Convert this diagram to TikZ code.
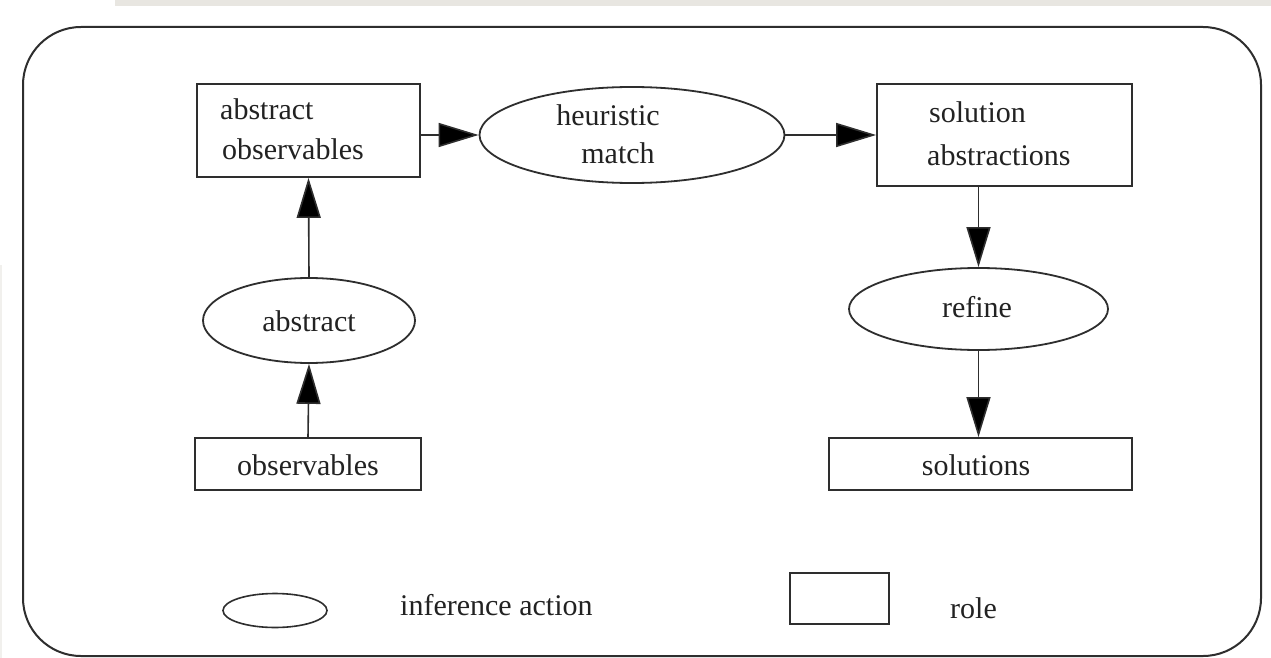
\documentclass[tikz,border=0pt]{standalone}
\usepackage{fontspec}
\setmainfont{Liberation Serif}
\usetikzlibrary{shapes.geometric,arrows.meta}
\definecolor{ink}{HTML}{2E2E2E}
\definecolor{txt}{HTML}{222222}
\definecolor{paper}{HTML}{E8E6E1}
\begin{document}
\begin{tikzpicture}[x=1pt,y=-1pt,
  every node/.style={font=\fontsize{30}{40}\selectfont, text=txt},
  role/.style={draw=ink, line width=1.8pt, rectangle, inner sep=0pt},
  action/.style={draw=ink, line width=1.8pt, ellipse, inner sep=0pt},
  label/.style={inner sep=0pt, anchor=base},
  flow/.style={draw=ink, line width=1.6pt,
    -{Triangle[length=40pt,width=24pt,fill=black]}}]
\useasboundingbox (0,0) rectangle (1271,658);
\fill[white] (0,0) rectangle (1271,658);
% scanned page edges
\fill[paper] (115,0) rectangle (1271,6);
\fill[paper!60] (0,265) rectangle (2,658);
% frame
\draw[ink, line width=2pt, rounded corners=58pt] (23,27) rectangle (1261,656);

% roles
\node[role, minimum width=223pt, minimum height=93pt] (absobs) at (308.5,130.5) {};
\node[role, minimum width=255pt, minimum height=102pt] (solabs) at (1004.5,135) {};
\node[role, minimum width=226pt, minimum height=52pt] (obs) at (308,464) {};
\node[role, minimum width=303pt, minimum height=52pt] (sols) at (980.5,464) {};

% inference actions
\node[action, minimum width=305pt, minimum height=96pt] (match) at (632,135) {};
\node[action, minimum width=212pt, minimum height=85pt] (abstr) at (309,320.5) {};
\node[action, minimum width=259pt, minimum height=82pt] (refine) at (978.5,309) {};

% texts
\node[label, anchor=base west] (t1) at (220,120) {abstract};
\node[label, anchor=base west] (t2) at (222,160) {observables};
\node[label, anchor=base west] (t3) at (929,123) {solution};
\node[label, anchor=base west] (t4) at (927,165) {abstractions};
\node[label] (t5) at (608,125) {heuristic};
\node[label] (t6) at (618,163) {match};
\node[label] (t7) at (309,331) {abstract};
\node[label] (t8) at (977,317) {refine};
\node[label] (t9) at (308,475) {observables};
\node[label] (t10) at (976,475) {solutions};

% connectors
\draw[flow] (absobs.east |- match.west) -- (match.west);
\draw[flow] (match.east) -- (solabs.west);
\draw[flow] (obs.north) -- (abstr.south);
\draw[flow] (abstr.north) -- (absobs.south);
\draw[flow] (solabs.south -| refine.north) -- (refine.north);
\draw[flow] (refine.south) -- (sols.north -| refine.south);

% legend
\node[action, line width=1.6pt, minimum width=104pt, minimum height=34pt] (legA) at (275,610.5) {};
\node[label, anchor=base west] (legAt) at (400,615) {inference action};
\node[role, line width=1.6pt, minimum width=99pt, minimum height=51pt] (legR) at (839.5,598.5) {};
\node[label, anchor=base west] (legRt) at (950,618) {role};
\end{tikzpicture}
\end{document}
